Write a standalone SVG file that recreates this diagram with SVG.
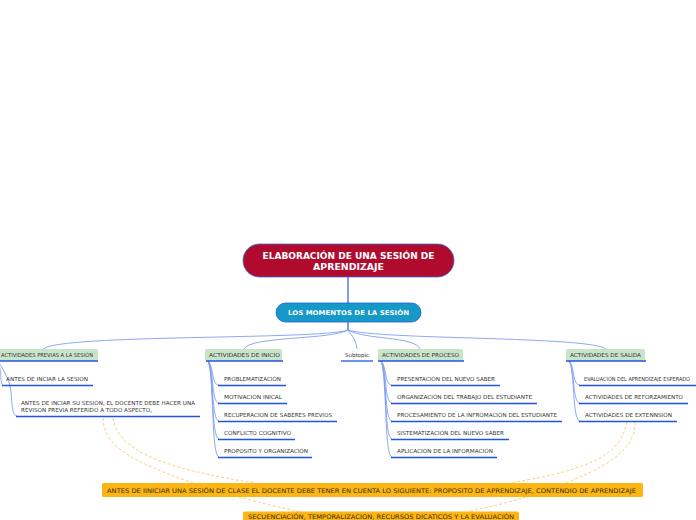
<svg xmlns="http://www.w3.org/2000/svg" width="696" height="520" viewBox="0 0 696 520">
<style>
.t{font-family:"DejaVu Sans",Verdana,sans-serif;font-size:5.5px;fill:#333}
.o{font-family:"DejaVu Sans",Verdana,sans-serif;font-size:6.3px;fill:#3a2a00}
.w{font-family:"DejaVu Sans",Verdana,sans-serif;font-weight:bold;fill:#fff}
.br{fill:#c8e5ca}
.ul{stroke:#1f55e6;stroke-width:1.3;fill:none}
.c{stroke:#7f9ff2;stroke-width:0.9;fill:none}
.d{stroke:#fcd080;stroke-width:1;stroke-dasharray:3,2;fill:none}
.org{fill:#fbb616}
</style>
<g id="connectors">
<path d="M348,277 L348,303" stroke="#2d5be3" stroke-width="1.2" fill="none"/>
<path d="M348,322 L348,330" stroke="#2d5be3" stroke-width="1.2" fill="none"/>
<path class="c" d="M348,330 C320,340 60,334 43,349"/>
<path class="c" d="M348,330 C330,340 250,336 244,349"/>
<path class="c" d="M348,330 C352,336 356,340 357,349"/>
<path class="c" d="M348,330 C365,340 415,336 420,349"/>
<path class="c" d="M348,330 C380,340 590,336 606,349"/>
<path class="c" d="M-2,361 C2,372 0,385 3,385"/>
<path class="c" d="M-2,361 C6,374 10,382 11,392 S12,416 17,416"/>
<path class="c" d="M208,361 C214,366 211,385 219,385"/>
<path class="c" d="M208,361 C214,368 211,403 219,403"/>
<path class="c" d="M208,361 C214,370 211,421 219,421"/>
<path class="c" d="M208,361 C214,372 211,439 219,439"/>
<path class="c" d="M208,361 C214,374 211,457 219,457"/>
<path class="c" d="M381,361 C387,366 384,385 392,385"/>
<path class="c" d="M381,361 C387,368 384,403 392,403"/>
<path class="c" d="M381,361 C387,370 384,421 392,421"/>
<path class="c" d="M381,361 C387,372 384,439 392,439"/>
<path class="c" d="M381,361 C387,374 384,457 392,457"/>
<path class="c" d="M569,361 C575,366 572,385 580,385"/>
<path class="c" d="M569,361 C575,368 572,403 580,403"/>
<path class="c" d="M569,361 C575,370 572,421 580,421"/>
<path class="d" d="M103,418 C104,448 135,462 190,482 C230,496 265,504 300,512"/>
<path class="d" d="M113,418 C118,450 160,468 255,483"/>
<path class="d" d="M627,422 C620,452 600,468 510,483"/>
<path class="d" d="M635,422 C636,452 600,470 560,485 C530,497 500,505 470,511"/>
</g>
<g id="root">
<rect x="243" y="244" width="211" height="33" rx="16.5" fill="#b00a2d" stroke="#3d6ad6" stroke-width="0.8"/>
<text class="w" x="348.5" y="259" font-size="8.3" text-anchor="middle" textLength="172" lengthAdjust="spacingAndGlyphs">ELABORACIÓN DE UNA SESIÓN DE</text>
<text class="w" x="348.5" y="270" font-size="8.3" text-anchor="middle" textLength="71" lengthAdjust="spacingAndGlyphs">APRENDIZAJE</text>
</g>
<g id="momentos">
<rect x="276" y="303" width="145" height="19" rx="9.5" fill="#1699c6" stroke="#1f5fe0" stroke-width="0.8"/>
<text class="w" x="348.5" y="315.2" font-size="6.4" text-anchor="middle" textLength="121" lengthAdjust="spacingAndGlyphs">LOS MOMENTOS DE LA SESIÓN</text>
</g>
<g id="previas">
<rect class="br" x="-4" y="349" width="102" height="12" rx="1.5"/>
<line class="ul" x1="-4" y1="361" x2="98" y2="361"/>
<text class="t" x="1" y="357" textLength="92" lengthAdjust="spacingAndGlyphs">ACTIVIDADES PREVIAS A LA SESIÓN</text>
</g>
<g id="previas-1">
<text class="t" x="6" y="381" textLength="82" lengthAdjust="spacingAndGlyphs">ANTES DE INCIAR LA SESION</text>
<line class="ul" x1="2" y1="385.5" x2="93" y2="385.5"/>
</g>
<g id="previas-2">
<text class="t" x="21" y="405" textLength="174" lengthAdjust="spacingAndGlyphs">ANTES DE INCIAR SU SESIÓN, EL DOCENTE DEBE HACER UNA</text>
<text class="t" x="21" y="412" textLength="131" lengthAdjust="spacingAndGlyphs">REVISON PREVIA REFERIDO A TODO ASPECTO,</text>
<line class="ul" x1="16" y1="416.5" x2="200" y2="416.5"/>
</g>
<g id="inicio">
<rect class="br" x="205" y="349" width="77" height="12" rx="1.5"/>
<line class="ul" x1="206" y1="361" x2="283" y2="361"/>
<text class="t" x="209" y="357" textLength="71" lengthAdjust="spacingAndGlyphs">ACTIVIDADES DE INICIO</text>
</g>
<g id="inicio-1"><text class="t" x="224" y="381" textLength="57" lengthAdjust="spacingAndGlyphs">PROBLEMATIZACIÓN</text><line class="ul" x1="218" y1="385.5" x2="286" y2="385.5"/></g>
<g id="inicio-2"><text class="t" x="224" y="399" textLength="58" lengthAdjust="spacingAndGlyphs">MOTIVACIÓN INICAL</text><line class="ul" x1="218" y1="403.5" x2="287" y2="403.5"/></g>
<g id="inicio-3"><text class="t" x="224" y="417" textLength="108" lengthAdjust="spacingAndGlyphs">RECUPERACION DE SABERES PREVIOS</text><line class="ul" x1="218" y1="421.5" x2="337" y2="421.5"/></g>
<g id="inicio-4"><text class="t" x="224" y="435" textLength="67" lengthAdjust="spacingAndGlyphs">CONFLICTO COGNITIVO</text><line class="ul" x1="218" y1="439.5" x2="295" y2="439.5"/></g>
<g id="inicio-5"><text class="t" x="224" y="453" textLength="84" lengthAdjust="spacingAndGlyphs">PROPOSITO Y ORGANIZACIÓN</text><line class="ul" x1="218" y1="457.5" x2="312" y2="457.5"/></g>
<g id="subtopic">
<text class="t" x="345" y="357" textLength="24" lengthAdjust="spacingAndGlyphs">Subtopic</text>
<line class="ul" x1="341" y1="361" x2="373" y2="361"/>
</g>
<g id="proceso">
<rect class="br" x="378" y="349" width="85" height="12" rx="1.5"/>
<line class="ul" x1="378" y1="361" x2="464" y2="361"/>
<text class="t" x="382" y="357" textLength="77" lengthAdjust="spacingAndGlyphs">ACTIVIDADES DE PROCESO</text>
</g>
<g id="proceso-1"><text class="t" x="397" y="381" textLength="98" lengthAdjust="spacingAndGlyphs">PRESENTACIÓN DEL NUEVO SABER</text><line class="ul" x1="391" y1="385.5" x2="500" y2="385.5"/></g>
<g id="proceso-2"><text class="t" x="397" y="399" textLength="135" lengthAdjust="spacingAndGlyphs">ORGANIZACIÓN DEL TRABAJO DEL ESTUDIANTE</text><line class="ul" x1="391" y1="403.5" x2="537" y2="403.5"/></g>
<g id="proceso-3"><text class="t" x="397" y="417" textLength="160" lengthAdjust="spacingAndGlyphs">PROCESAMIENTO DE LA INFROMACIÓN DEL ESTUDIANTE</text><line class="ul" x1="391" y1="421.5" x2="562" y2="421.5"/></g>
<g id="proceso-4"><text class="t" x="397" y="435" textLength="107" lengthAdjust="spacingAndGlyphs">SISTEMATIZACIÓN DEL NUEVO SABER</text><line class="ul" x1="391" y1="439.5" x2="509" y2="439.5"/></g>
<g id="proceso-5"><text class="t" x="397" y="453" textLength="96" lengthAdjust="spacingAndGlyphs">APLICACIÓN DE LA INFORMACIÓN</text><line class="ul" x1="391" y1="457.5" x2="497" y2="457.5"/></g>
<g id="salida">
<rect class="br" x="566" y="349" width="79" height="12" rx="1.5"/>
<line class="ul" x1="566" y1="361" x2="646" y2="361"/>
<text class="t" x="570" y="357" textLength="71" lengthAdjust="spacingAndGlyphs">ACTIVIDADES DE SALIDA</text>
</g>
<g id="salida-1"><text class="t" x="584" y="381" textLength="106" lengthAdjust="spacingAndGlyphs">EVALUACIÓN DEL APRENDIZAJE ESPERADO</text><line class="ul" x1="579" y1="385.5" x2="696" y2="385.5"/></g>
<g id="salida-2"><text class="t" x="585" y="399" textLength="98" lengthAdjust="spacingAndGlyphs">ACTIVIDADES DE REFORZAMIENTO</text><line class="ul" x1="579" y1="403.5" x2="688" y2="403.5"/></g>
<g id="salida-3"><text class="t" x="585" y="417" textLength="87" lengthAdjust="spacingAndGlyphs">ACTIVIDADES DE EXTENNSIÓN</text><line class="ul" x1="579" y1="421.5" x2="677" y2="421.5"/></g>
<g id="nota-1">
<rect class="org" x="102" y="483" width="541" height="14" rx="1.5"/>
<text class="o" x="107" y="492.8" textLength="529" lengthAdjust="spacingAndGlyphs">ANTES DE IINICIAR UNA SESIÓN DE CLASE EL DOCENTE DEBE TENER EN CUENTA LO SIGUIENTE: PROPOSITO DE APRENDIZAJE, CONTENDIO DE APRENDIZAJE</text>
</g>
<g id="nota-2">
<rect class="org" x="243" y="511.5" width="276" height="14" rx="1.5"/>
<text class="o" x="248" y="519.3" textLength="266" lengthAdjust="spacingAndGlyphs">SECUENCIACIÓN, TEMPORALIZACION, RECURSOS DICATICOS Y LA EVALUACIÓN</text>
</g>
</svg>
